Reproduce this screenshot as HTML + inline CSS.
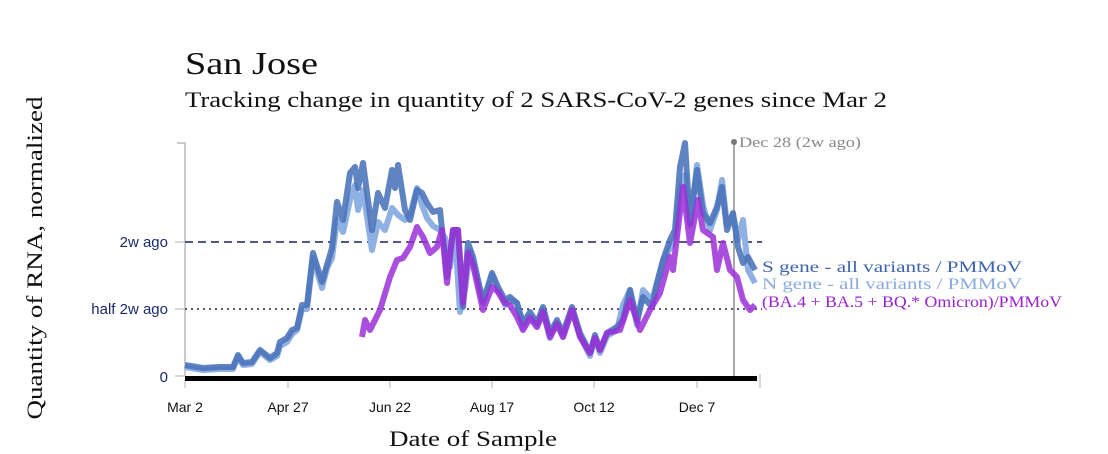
<!DOCTYPE html>
<html><head><meta charset="utf-8"><style>
html,body{margin:0;padding:0;background:#fff;width:1108px;height:454px;overflow:hidden}
svg{display:block}
.serif{font-family:"Liberation Serif","DejaVu Serif",serif}
.sans{font-family:"Liberation Sans",sans-serif}
</style></head><body>
<svg width="1108" height="454" viewBox="0 0 1108 454" xmlns="http://www.w3.org/2000/svg">
<text x="185" y="74" class="serif" font-size="32" fill="#111" textLength="133" lengthAdjust="spacingAndGlyphs">San Jose</text>
<text x="185" y="107" class="serif" font-size="22" fill="#111" textLength="702" lengthAdjust="spacingAndGlyphs">Tracking change in quantity of 2 SARS-CoV-2 genes since Mar 2</text>
<text transform="translate(42,258) rotate(-90)" text-anchor="middle" class="serif" font-size="22" fill="#111" textLength="323" lengthAdjust="spacingAndGlyphs">Quantity of RNA, normalized</text>
<text x="389" y="446" class="serif" font-size="22" fill="#111" textLength="168" lengthAdjust="spacingAndGlyphs">Date of Sample</text>
<!-- axis -->
<path d="M177 143H185V376" fill="none" stroke="#ccc" stroke-width="2"/>
<g stroke="#ccc" stroke-width="1.5"><line x1="175" y1="242" x2="185" y2="242"/><line x1="175" y1="309" x2="185" y2="309"/><line x1="175" y1="376" x2="185" y2="376"/></g>
<text x="168" y="247" text-anchor="end" class="sans" font-size="15" fill="#1a2a6c">2w ago</text>
<text x="168" y="314" text-anchor="end" class="sans" font-size="15" fill="#1a2a6c">half 2w ago</text>
<text x="168" y="382" text-anchor="end" class="sans" font-size="15" fill="#1a2a6c">0</text>
<line x1="185" y1="242" x2="762" y2="242" stroke="#1a2060" stroke-width="1.6" stroke-dasharray="8,5"/>
<line x1="185" y1="309" x2="762" y2="309" stroke="#1a2060" stroke-width="1.6" stroke-dasharray="2,4"/>
<g stroke="#ccc" stroke-width="1.5">
<line x1="185" y1="380" x2="185" y2="388"/><line x1="288" y1="380" x2="288" y2="388"/><line x1="390" y1="380" x2="390" y2="388"/><line x1="492" y1="380" x2="492" y2="388"/><line x1="594" y1="380" x2="594" y2="388"/><line x1="697" y1="380" x2="697" y2="388"/><line x1="760" y1="374" x2="760" y2="388"/>
</g>
<g class="sans" font-size="14" fill="#111" text-anchor="middle">
<text x="185" y="412">Mar 2</text><text x="288" y="412">Apr 27</text><text x="390" y="412">Jun 22</text><text x="492" y="412">Aug 17</text><text x="594" y="412">Oct 12</text><text x="697" y="412">Dec 7</text>
</g>
<line x1="734" y1="141" x2="734" y2="378" stroke="#aaa" stroke-width="2"/>
<circle cx="734" cy="142" r="3" fill="#777"/>
<text x="739" y="147" class="serif" font-size="15" fill="#888" textLength="122" lengthAdjust="spacingAndGlyphs">Dec 28 (2w ago)</text>
<g fill="none" stroke-width="6" stroke-linejoin="round">
<polyline stroke="#8fb0e2" points="185,367 203,370 220,369 233,369 238,357 243,365 252,364 260,352 270,360 277,356 280,346 287,342 292,334 297,330 302,309 307,309 313,258 322,288 327,268 332,258 337,220 343,232 350,200 355,185 358,210 363,190 372,250 378,222 385,230 392,208 398,215 405,220 410,215 417,188 422,205 427,218 433,226 440,230 445,238 450,267 455,232 460,312 465,290 470,250 473,262 483,300 492,275 498,290 505,305 510,300 517,303 523,328 530,316 537,326 543,310 550,338 557,323 563,337 572,310 580,336 590,356 595,338 600,353 607,336 617,330 623,305 630,290 637,325 643,290 652,300 657,283 663,262 670,248 675,240 680,190 685,175 690,225 697,165 703,205 710,230 717,210 722,180 727,225 733,215 738,240 743,220 748,270 755,283"/>
<polyline stroke="#4a72b8" stroke-opacity="0.88" points="185,365 203,368 220,367 233,367 238,355 243,363 252,362 260,350 270,358 277,353 280,342 287,338 292,330 297,328 302,305 307,305 313,253 322,282 327,265 332,248 337,202 343,220 350,173 355,167 358,188 363,163 372,230 378,193 385,208 392,170 395,188 398,165 405,210 410,220 417,190 422,193 427,203 433,212 440,210 447,277 453,230 458,230 463,307 468,243 473,257 483,303 492,273 498,287 505,300 510,297 517,303 523,323 530,312 537,323 543,307 550,333 557,320 563,333 572,307 580,333 590,353 595,335 600,350 607,333 617,327 623,320 630,290 637,320 643,297 652,307 657,283 663,260 670,240 675,230 680,167 685,143 690,223 697,170 703,213 710,223 717,207 722,187 727,230 733,213 738,247 743,263 748,257 755,270"/>
<polyline stroke="#9b2fd8" stroke-opacity="0.85" points="362,337 365,320 370,330 380,310 390,277 397,260 403,258 410,247 417,227 423,237 430,253 437,247 442,230 447,283 453,230 458,230 463,303 468,253 473,265 483,310 492,287 498,292 505,303 510,305 517,317 523,330 530,318 537,327 543,312 550,337 557,324 563,337 572,310 580,337 590,353 595,338 600,350 607,333 620,330 630,300 640,330 650,310 660,293 670,257 673,270 683,187 690,243 698,200 703,230 713,237 717,270 723,243 730,270 737,277 743,300 750,310 755,305"/>
</g>
<rect x="185" y="376" width="572" height="5" fill="#000"/>
<g class="serif" font-size="16">
<text x="762" y="272" fill="#3d63aa" textLength="260" lengthAdjust="spacingAndGlyphs">S gene - all variants / PMMoV</text>
<text x="762" y="289" fill="#8aaade" textLength="260" lengthAdjust="spacingAndGlyphs">N gene - all variants / PMMoV</text>
<text x="762" y="307" fill="#9a22d0" textLength="300" lengthAdjust="spacingAndGlyphs">(BA.4 + BA.5 + BQ.* Omicron)/PMMoV</text>
</g>
</svg>
</body></html>
